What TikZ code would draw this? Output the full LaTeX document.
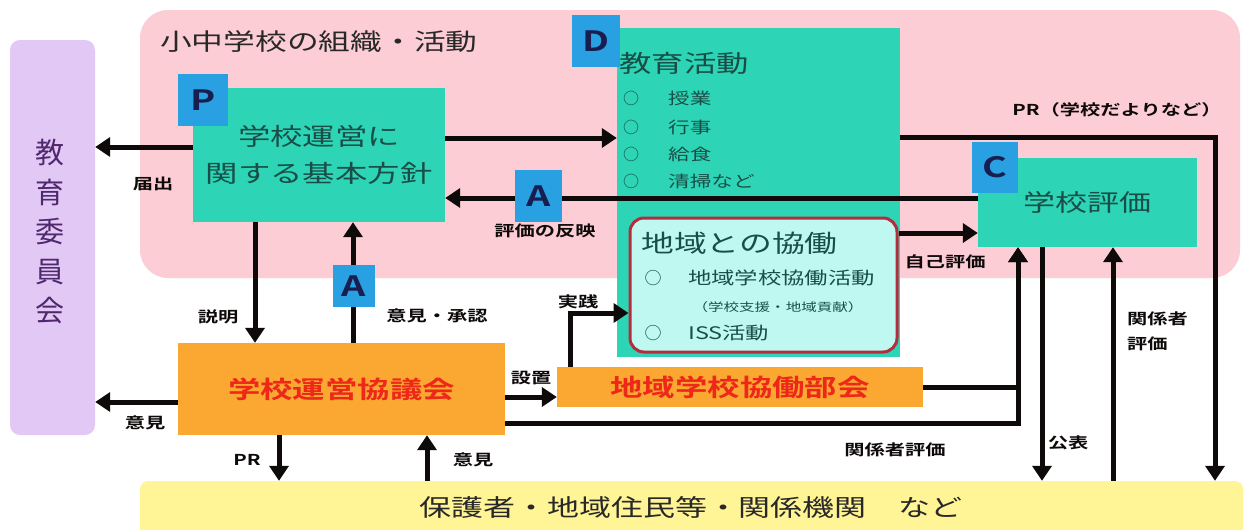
\documentclass[tikz,border=0pt]{standalone}
\usepackage{fontspec}
\setmainfont{Noto Sans CJK JP}[FakeStretch=1.35,BoldFont={Noto Sans CJK JP Bold}]
\newfontfamily\vfont{Noto Sans CJK JP}
\usetikzlibrary{arrows.meta}
\newcommand\fsz[1]{\fontsize{#1}{#1}\selectfont}
\definecolor{pinkbg}{RGB}{252,205,213}
\definecolor{purp}{RGB}{226,200,244}
\definecolor{purptext}{RGB}{80,40,110}
\definecolor{tealbg}{RGB}{45,212,182}
\definecolor{tealtext}{RGB}{25,78,72}
\definecolor{sqblue}{RGB}{40,160,225}
\definecolor{navy}{RGB}{25,30,80}
\definecolor{orangebg}{RGB}{250,168,50}
\definecolor{redtext}{RGB}{238,40,25}
\definecolor{yelbg}{RGB}{255,245,150}
\definecolor{kcyan}{RGB}{190,248,240}
\definecolor{kborder}{RGB}{180,45,60}
\definecolor{lineblack}{RGB}{15,10,10}
\definecolor{darktext}{RGB}{40,40,40}
\begin{document}
\begin{tikzpicture}[x=1pt,y=-1pt,
  tealbox/.style={fill=tealbg,inner sep=0pt,text=tealtext},
  orbox/.style={fill=orangebg,inner sep=0pt,text=redtext,font=\bfseries\fsz{24}},
  sq/.style={fill=sqblue,inner sep=0pt,text=navy,font=\bfseries\fsz{28}},
  ln/.style={line width=5pt,draw=lineblack},
  arr/.style={ln,-{Triangle[length=15pt,width=19pt]}},
  lbl/.style={font=\bfseries\fsz{15},text=lineblack,inner sep=0pt},
  tt/.style={text=tealtext,inner sep=0pt},
  circ/.style={text=tealtext,inner sep=0pt,font=\vfont\fsz{16}}]
\useasboundingbox (0,0) rectangle (1245,530);
\fill[white] (0,0) rectangle (1245,530);
% backgrounds
\node[fill=pinkbg,rounded corners=28pt,minimum width=1100pt,minimum height=268pt,inner sep=0pt] (pink) at (690,144) {};
\node[fill=purp,rounded corners=10pt,minimum width=85pt,minimum height=395pt,inner sep=0pt] (edu) at (52.5,237.5) {};
\node[text=purptext,align=center,font=\vfont\fontsize{29}{39.5}\selectfont,inner sep=0pt] (edutxt) at (50,232) {教\\育\\委\\員\\会};
\node[anchor=west,font=\fsz{23.5},text=darktext,inner sep=0pt] (title) at (160,42) {小中学校の組織・活動};
% P box
\node[tealbox,minimum width=252pt,minimum height=134pt,align=center,font=\fontsize{24}{37}\selectfont] (P) at (319,155) {学校運営に\\関する基本方針};
% D box
\node[tealbox,minimum width=283pt,minimum height=329pt] (D) at (758.5,192.5) {};
\node[tt,anchor=west,font=\fsz{24}] (dtitle) at (619,63) {教育活動};
\node[circ] (c1) at (631,98) {○};
\node[tt,anchor=west,font=\fsz{16}] (i1) at (668,98) {授業};
\node[circ] (c2) at (631,127) {○};
\node[tt,anchor=west,font=\fsz{16}] (i2) at (668,127) {行事};
\node[circ] (c3) at (631,154) {○};
\node[tt,anchor=west,font=\fsz{16}] (i3) at (668,154) {給食};
\node[circ] (c4) at (631,181) {○};
\node[tt,anchor=west,font=\fsz{16}] (i4) at (668,181) {清掃など};
% kyodo box
\node[draw=kborder,line width=3pt,fill=kcyan,rounded corners=14pt,minimum width=267pt,minimum height=134pt,inner sep=0pt] (kyodo) at (763.5,285) {};
\node[tt,anchor=west,font=\fsz{24.3}] (ktitle) at (641,243) {地域との協働};
\node[circ,font=\vfont\fsz{17}] (k1) at (653,278) {○};
\node[tt,anchor=west,font=\fsz{17.3}] (kt1) at (688,278) {地域学校協働活動};
\node[tt,font=\fsz{11.5}] (kt2) at (778,307) {（学校支援・地域貢献）};
\node[circ,font=\vfont\fsz{17}] (k2) at (653,333) {○};
\node[tt,anchor=west,font=\fsz{17.3}] (kt3) at (688,333) {ISS活動};
% C box
\node[tealbox,minimum width=219pt,minimum height=89pt,font=\fsz{23.7}] (C) at (1087.5,202.5) {学校評価};
% orange boxes
\node[orbox,minimum width=327pt,minimum height=92pt] (council) at (341.5,389) {学校運営協議会};
\node[orbox,minimum width=366pt,minimum height=40pt] (bukai) at (740,387) {地域学校協働部会};
% yellow
\node[fill=yelbg,rounded corners=8pt,minimum width=1103pt,minimum height=60pt,inner sep=0pt] (yel) at (691.5,511) {};
\node[text=darktext,font=\fsz{23.7},inner sep=0pt] (yeltxt) at (691,507) {保護者・地域住民等・関係機関　など};
% connectors
\draw[arr] (P.west |- 0,147) -- (edu.east |- 0,147);
\draw[arr] (P.east |- 0,138) -- (D.west |- 0,138);
\draw[arr] (C.west |- 0,198) -- (P.east |- 0,198);
\draw[arr] (D.east |- 0,137) -| (yel.north -| 1215,0);
\draw[arr] (kyodo.east |- 0,233) -- (C.west |- 0,233);
\draw[arr] (P.south -| 255,0) -- (council.north -| 255,0);
\draw[arr] (council.north -| 353,0) -- (P.south -| 353,0);
\draw[arr] (council.west |- 0,402) -- (edu.east |- 0,402);
\draw[arr] (council.south -| 279,0) -- (yel.north -| 279,0);
\draw[arr] (yel.north -| 427,0) -- (council.south -| 427,0);
\draw[arr] (council.east |- 0,397) -- (bukai.west |- 0,397);
\draw[arr] (bukai.north -| 570,0) |- (kyodo.west |- 0,313);
\draw[arr] (bukai.east |- 0,387) -| (C.south -| 1018,0);
\draw[arr] (council.east |- 0,423) -| (C.south -| 1018,0);
\draw[arr] (C.south -| 1042,0) -- (yel.north -| 1042,0);
\draw[arr] (yel.north -| 1113,0) -- (C.south -| 1113,0);
% letter squares
\node[sq,minimum width=50pt,minimum height=52pt] (sqP) at (203,100) {P};
\node[sq,minimum width=48pt,minimum height=52pt] (sqD) at (596,41) {D};
\node[sq,minimum width=47pt,minimum height=52pt] (sqA1) at (538.5,196) {A};
\node[sq,minimum width=42pt,minimum height=42pt] (sqA2) at (354,286) {A};
\node[sq,minimum width=46pt,minimum height=51pt] (sqC) at (995,167.5) {C};
% labels
\node[lbl] (l1) at (153,184) {届出};
\node[lbl] (l2) at (545,231) {評価の反映};
\node[lbl] (l3) at (218,317) {説明};
\node[lbl] (l4) at (437,316) {意見・承認};
\node[lbl] (l5) at (145,423) {意見};
\node[lbl] (l6) at (247,460) {PR};
\node[lbl] (l7) at (473,460) {意見};
\node[lbl] (l8) at (531,378) {設置};
\node[lbl] (l9) at (578,302) {実践};
\node[lbl] (l10) at (945,262) {自己評価};
\node[lbl] (l11) at (895,450) {関係者評価};
\node[lbl] (l12) at (1068,443) {公表};
\node[lbl,align=left,anchor=west,font=\bfseries\fontsize{15}{25}\selectfont] (l13) at (1127,331) {関係者\\評価};
\node[lbl] (l14) at (1117,110) {PR（学校だよりなど）};
\end{tikzpicture}
\end{document}
